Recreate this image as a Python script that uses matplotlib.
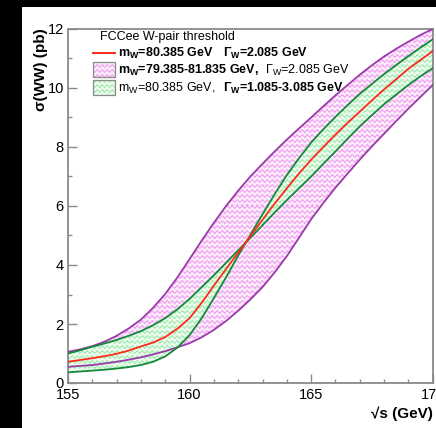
import numpy as np
import matplotlib
matplotlib.use("Agg")
import matplotlib.pyplot as plt
from matplotlib.patches import Rectangle
from matplotlib.lines import Line2D
from matplotlib.ticker import MultipleLocator

plt.rcParams["font.family"] = ["Liberation Sans", "DejaVu Sans"]
plt.rcParams["mathtext.fontset"] = "custom"
plt.rcParams["mathtext.rm"] = "Liberation Sans"
plt.rcParams["mathtext.bf"] = "Liberation Sans:bold"
plt.rcParams["mathtext.it"] = "Liberation Sans:italic"

# centre-of-mass energy (GeV)
sqrt_s = [155, 155.5, 156, 156.5, 157, 157.5, 158, 158.5, 159, 159.5,
          160, 160.5, 161, 161.5, 162, 162.5, 163, 163.5, 164, 164.5,
          165, 165.5, 166, 166.5, 167, 167.5, 168, 168.5, 169, 169.5, 170]
# sigma(WW) in pb, nominal mW = 80.385 GeV, GammaW = 2.085 GeV
xsec_nominal = [0.72, 0.78, 0.84, 0.91, 0.99, 1.10, 1.24, 1.37, 1.56, 1.84,
                2.20, 2.72, 3.30, 3.86, 4.42, 4.98, 5.53, 6.08, 6.60, 7.10,
                7.57, 8.00, 8.42, 8.82, 9.20, 9.58, 9.95, 10.30, 10.65, 10.95,
                11.25]
# mass variation band edges (mW = 79.385 and 81.835 GeV)
xsec_mw_low = [1.06, 1.14, 1.25, 1.40, 1.60, 1.85, 2.15, 2.55, 3.02, 3.58,
               4.20, 4.83, 5.43, 6.00, 6.52, 7.00, 7.43, 7.85, 8.25, 8.63,
               9.00, 9.38, 9.75, 10.10, 10.45, 10.77, 11.07, 11.33, 11.57,
               11.80, 12.00]
xsec_mw_high = [0.55, 0.58, 0.61, 0.66, 0.72, 0.79, 0.87, 0.97, 1.08, 1.21,
                1.35, 1.55, 1.80, 2.10, 2.45, 2.83, 3.25, 3.75, 4.30, 4.92,
                5.55, 6.10, 6.62, 7.10, 7.57, 8.02, 8.45, 8.88, 9.30, 9.70,
                10.10]
# width variation band edges (GammaW = 3.085 and 1.085 GeV)
xsec_gw_wide = [1.00, 1.11, 1.23, 1.34, 1.46, 1.60, 1.76, 1.96, 2.20, 2.50,
                2.85, 3.25, 3.65, 4.07, 4.50, 4.92, 5.35, 5.78, 6.20, 6.60,
                7.00, 7.43, 7.85, 8.28, 8.70, 9.08, 9.45, 9.78, 10.10, 10.40,
                10.67]
xsec_gw_narrow = [0.36, 0.39, 0.42, 0.45, 0.49, 0.54, 0.61, 0.72, 0.90, 1.20,
                  1.62, 2.20, 2.88, 3.58, 4.32, 5.02, 5.72, 6.40, 7.05, 7.62,
                  8.15, 8.60, 9.02, 9.42, 9.80, 10.14, 10.47, 10.78, 11.08,
                  11.37, 11.65]

x_ticks = [155, 160, 165, 170]
x_ticklabels = ["155", "160", "165", "170"]
y_ticks = [0, 2, 4, 6, 8, 10, 12]
y_ticklabels = ["0", "2", "4", "6", "8", "10", "12"]

PURPLE = "#9a3aaa"
GREEN = "#16883a"
RED = "#ff2a1a"
GREY = "#8a8a8a"

W_PX, H_PX = 436, 428
fig = plt.figure(figsize=(W_PX / 100, H_PX / 100), dpi=100, facecolor="black")
fig.patches.append(Rectangle((22 / W_PX, 0), 1 - 22 / W_PX, (H_PX - 7) / H_PX,
                             transform=fig.transFigure, facecolor="white",
                             edgecolor="none", zorder=-5))

ax_l, ax_r, ax_t, ax_b = 68, 432.7, 29, 383
ax = fig.add_axes([ax_l / W_PX, 1 - ax_b / H_PX, (ax_r - ax_l) / W_PX,
                   (ax_b - ax_t) / H_PX])
ax.set_facecolor("none")
ax.set_xlim(155, 170)
ax.set_ylim(0, 12)


def wave_texture(bg, fg, w, h, period=5.0, spacing=5.0, amp=1.1, sig=0.6):
    yy, xx = np.mgrid[0:h, 0:w].astype(float)
    phase = (yy - amp * np.sin(2 * np.pi * xx / period)) % spacing
    k = np.exp(-((phase - spacing / 2) ** 2) / (2 * sig ** 2))[..., None]
    bg = np.array(bg, float) / 255
    fg = np.array(fg, float) / 255
    return bg * (1 - k) + fg * k


tw, th = int(round(ax_r - ax_l)), int(round(ax_b - ax_t))
PINK_BG, PINK_FG = (252, 236, 252), (238, 150, 238)
MINT_BG, MINT_FG = (238, 252, 240), (150, 232, 165)


def textured_band(lo, hi, bg, fg, z):
    poly = ax.fill_between(sqrt_s, lo, hi, facecolor="none", edgecolor="none")
    im = ax.imshow(wave_texture(bg, fg, tw, th), extent=(155, 170, 0, 12),
                   origin="upper", aspect="auto", interpolation="nearest",
                   zorder=z)
    im.set_clip_path(poly.get_paths()[0], transform=ax.transData)


textured_band(xsec_mw_high, xsec_mw_low, PINK_BG, PINK_FG, 1)
textured_band(xsec_gw_narrow, xsec_gw_wide, MINT_BG, MINT_FG, 2)

lw = 1.3
ax.plot(sqrt_s, xsec_mw_low, color=PURPLE, lw=lw, zorder=3)
ax.plot(sqrt_s, xsec_mw_high, color=PURPLE, lw=lw, zorder=3)
ax.plot(sqrt_s, xsec_gw_wide, color=GREEN, lw=lw, zorder=4)
ax.plot(sqrt_s, xsec_gw_narrow, color=GREEN, lw=lw, zorder=4)
ax.plot(sqrt_s, xsec_nominal, color=RED, lw=lw, zorder=5)

# axes frame and ticks
for s in ax.spines.values():
    s.set_color(GREY)
    s.set_linewidth(1.3)
ax.set_xticks(x_ticks)
ax.set_xticklabels(x_ticklabels)
ax.set_yticks(y_ticks)
ax.set_yticklabels(y_ticklabels)
ax.xaxis.set_minor_locator(MultipleLocator(1))
ax.yaxis.set_minor_locator(MultipleLocator(1))
ax.tick_params(which="both", direction="in", color=GREY, width=1.0,
               labelsize=10.5, labelcolor="black", top=False, right=False)
ax.tick_params(which="major", length=6.5)
ax.tick_params(which="minor", length=3.2)
ax.tick_params(axis="x", pad=3.5)
ax.tick_params(axis="y", pad=3.0)

# axis titles
ax.text((41 - ax_l) / (ax_r - ax_l), 1.0 + (ax_t - 28) / (ax_b - ax_t),
        "σ(WW) (pb)", rotation=90, ha="center", va="top",
        fontsize=11, fontweight="bold", transform=ax.transAxes)
ax.text(1.0, (ax_b - 414) / (ax_b - ax_t), "√s (GeV)", ha="right",
        va="center", fontsize=11, fontweight="bold", transform=ax.transAxes)


# legend, placed in pixel units of the axes box
def fx(px):
    return (px - ax_l) / (ax_r - ax_l)


def fy(py):
    return (ax_b - py) / (ax_b - ax_t)


fs = 9
ax.text(fx(100), fy(37), "FCCee W-pair threshold", fontsize=fs,
        ha="left", va="center", transform=ax.transAxes, zorder=10)
ax.add_line(Line2D([fx(93), fx(115)], [fy(53), fy(53)], color=RED, lw=1.4,
                   transform=ax.transAxes, zorder=10))
ax.text(fx(118), fy(53), r"$\mathbf{m_{W}}$=80.385 GeV", fontsize=fs,
        fontweight="bold", ha="left", va="center", transform=ax.transAxes,
        zorder=10)
ax.text(fx(223), fy(53), r"$\mathbf{\Gamma_{W}}$=2.085 GeV", fontsize=fs,
        fontweight="bold", ha="left", va="center", transform=ax.transAxes,
        zorder=10)

box_w, box_h = fx(115) - fx(93), fy(63) - fy(78)
for yc, bg, fg in [(70, PINK_BG, PINK_FG), (88, MINT_BG, MINT_FG)]:
    r = Rectangle((fx(93), fy(yc + 7.5)), box_w, box_h,
                  transform=ax.transAxes, facecolor="none", edgecolor=GREY,
                  lw=0.9, zorder=11)
    ax.add_patch(r)
    img = ax.imshow(wave_texture(bg, fg, tw, th), extent=(155, 170, 0, 12),
                    origin="upper", aspect="auto", interpolation="nearest",
                    zorder=10)
    img.set_clip_path(r)

ax.text(fx(118), fy(70), r"$\mathbf{m_{W}}$=79.385-81.835 GeV,", fontsize=fs,
        fontweight="bold", ha="left", va="center", transform=ax.transAxes,
        zorder=10)
ax.text(fx(265), fy(70), r"$\mathrm{\Gamma_{W}}$=2.085 GeV", fontsize=fs,
        ha="left", va="center", transform=ax.transAxes, zorder=10)
ax.text(fx(118), fy(88), r"$\mathrm{m_{W}}$=80.385 GeV,", fontsize=fs,
        ha="left", va="center", transform=ax.transAxes, zorder=10)
ax.text(fx(223), fy(88), r"$\mathbf{\Gamma_{W}}$=1.085-3.085 GeV", fontsize=fs,
        fontweight="bold", ha="left", va="center", transform=ax.transAxes,
        zorder=10)

fig.savefig("out.png", dpi=100, facecolor="black")
